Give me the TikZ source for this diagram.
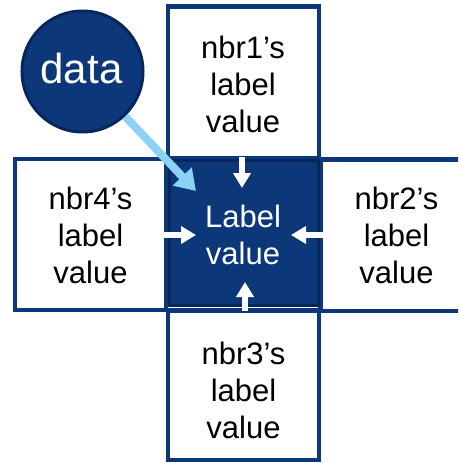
\documentclass[tikz,border=0pt]{standalone}
\usepackage{fontspec}
\setmainfont{Liberation Sans}
\usetikzlibrary{arrows.meta}
\definecolor{navy}{RGB}{12,56,122}
\definecolor{darknavy}{RGB}{6,38,92}
\definecolor{skyarrow}{RGB}{140,210,245}
\tikzset{
  nbox/.style={draw=navy, fill=white, line width=4.5pt, inner sep=0pt, outer sep=0pt},
  cbox/.style={draw=darknavy, fill=navy, line width=2.5pt, inner sep=0pt, outer sep=0pt},
  nbrtext/.style={align=center, text=black, font=\fontsize{31}{37}\selectfont, inner sep=0pt},
  ctext/.style={align=center, text=white, font=\fontsize{31}{37}\selectfont, inner sep=0pt},
  wharrow/.style={draw=white, line width=5.5pt, -{Triangle[width=17pt,length=15pt]}},
  dataarrow/.style={draw=skyarrow, line width=8pt, -{Triangle[width=25pt,length=20pt]}},
  datacircle/.style={circle, draw=darknavy, fill=navy, line width=3pt, minimum size=121pt, inner sep=0pt, text=white, font=\fontsize{42}{48}\selectfont}
}
\begin{document}
\begin{tikzpicture}[x=1pt,y=-1pt]
\clip (0,0) rectangle (458,463);
\fill[white] (0,0) rectangle (458,463);
% neighbour boxes
\node[nbox, minimum width=151pt, minimum height=151.5pt] (n1) at (243.25,82) {};
\node[nbox, minimum width=151pt, minimum height=151pt] (n4) at (90.25,234.25) {};
\node[nbox, minimum width=151.5pt, minimum height=151.5pt] (n2) at (396,235) {};
\node[nbox, minimum width=151pt, minimum height=149.5pt] (n3) at (243.25,385) {};
% centre box
\node[cbox, minimum width=149pt, minimum height=145pt] (c) at (244,233) {};
% texts
\node[nbrtext] (t1) at (243,84) {nbr1’s\\label\\value};
\node[nbrtext] (t4) at (90.5,235) {nbr4’s\\label\\value};
\node[nbrtext] (t2) at (396.5,235) {nbr2’s\\label\\value};
\node[nbrtext] (t3) at (243.5,390) {nbr3’s\\label\\value};
\node[ctext] (tc) at (243,235) {Label\\value};
% white arrows
\coordinate (a1s) at (242,157);
\coordinate (a1e) at (242,188);
\coordinate (a4s) at (163,235);
\coordinate (a4e) at (196,235);
\coordinate (a2s) at (323,235);
\coordinate (a2e) at (291,235);
\coordinate (a3s) at (245,311);
\coordinate (a3e) at (245,282);
\draw[wharrow] (a1s) -- (a1e);
\draw[wharrow] (a4s) -- (a4e);
\draw[wharrow] (a2s) -- (a2e);
\draw[wharrow] (a3s) -- (a3e);
% data circle
\node[datacircle] (data) at (82.5,71.5) {};
\node[text=white, font=\fontsize{42}{48}\selectfont, inner sep=0pt] (dtext) at (81.5,68) {data};
\coordinate (dtip) at (196,191);
\draw[dataarrow] (data) -- (dtip);
\end{tikzpicture}
\end{document}
